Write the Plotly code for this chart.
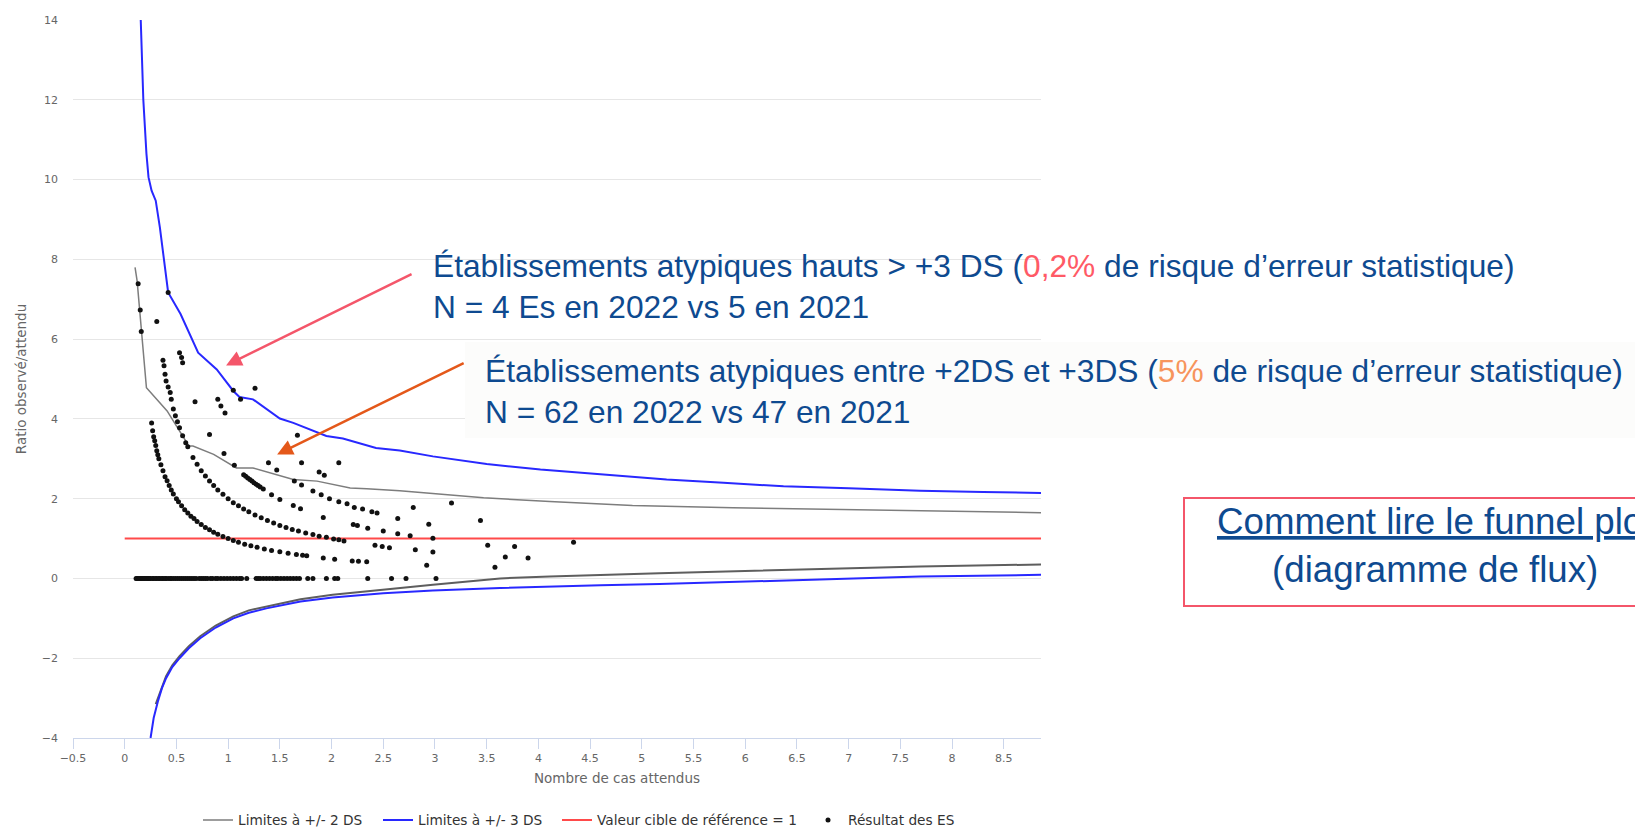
import plotly.graph_objects as go

# ---------------- data ----------------
# Limites +/- 3 DS (blue)
lim3_up_x = [0.155, 0.18, 0.21, 0.23, 0.26, 0.30, 0.34, 0.38, 0.40, 0.42, 0.54, 0.71, 0.89, 1.05, 1.11, 1.24,
             1.50, 1.63, 1.95, 2.11, 2.43, 2.66, 2.98, 3.30, 3.50, 4.02, 4.60, 5.24, 5.79, 6.37, 7.00, 7.69, 8.30, 8.86]
lim3_up_y = [14.0, 12.0, 10.65, 10.06, 9.72, 9.47, 8.80, 7.96, 7.45, 7.17, 6.63, 5.66, 5.24, 4.70, 4.55, 4.49,
             4.01, 3.90, 3.57, 3.51, 3.27, 3.21, 3.06, 2.94, 2.87, 2.73, 2.61, 2.48, 2.40, 2.31, 2.26, 2.20, 2.17, 2.14]
lim3_lo_x = [0.25, 0.28, 0.32, 0.36, 0.40, 0.46, 0.53, 0.62, 0.73, 0.88, 1.05, 1.20, 1.37, 1.55, 1.70, 2.01,
             2.50, 2.98, 3.63, 4.60, 5.17, 6.40, 7.69, 8.86]
lim3_lo_y = [-4.0, -3.5, -3.09, -2.75, -2.5, -2.22, -2.0, -1.75, -1.5, -1.23, -1.0, -0.86, -0.75, -0.65, -0.58, -0.48,
             -0.37, -0.30, -0.24, -0.17, -0.14, -0.05, 0.05, 0.09]

# Limites +/- 2 DS (grey)
lim2_up_x = [0.10, 0.12, 0.21, 0.41, 0.62, 0.66, 0.86, 1.08, 1.24, 1.63, 1.86, 2.18, 2.34, 2.66, 2.92, 3.47,
             4.11, 4.91, 5.88, 6.80, 7.69, 8.86]
lim2_up_y = [7.8, 7.46, 4.78, 4.2, 3.32, 3.32, 3.11, 2.77, 2.77, 2.48, 2.44, 2.27, 2.25, 2.20, 2.14, 2.02,
             1.93, 1.83, 1.77, 1.73, 1.70, 1.65]
lim2_lo_x = [0.30, 0.36, 0.40, 0.46, 0.53, 0.62, 0.73, 0.88, 1.05, 1.20, 1.37, 1.55, 1.70, 2.01, 2.50, 2.98,
             3.63, 4.11, 5.17, 6.40, 7.69, 8.86]
lim2_lo_y = [-3.15, -2.7, -2.45, -2.18, -1.95, -1.7, -1.45, -1.18, -0.95, -0.8, -0.7, -0.6, -0.52, -0.41, -0.28, -0.16,
             0.0, 0.05, 0.13, 0.22, 0.30, 0.35]

# Valeur cible de référence = 1
ref_x = [0.0, 8.86]
ref_y = [1.0, 1.0]

# Résultat des ES (grouped by band)
es_zero_x = [0.11, 0.12, 0.13, 0.14, 0.15, 0.16, 0.17, 0.18, 0.19, 0.20, 0.21, 0.22, 0.23, 0.24, 0.25, 0.27,
             0.28, 0.30, 0.31, 0.33, 0.34, 0.36, 0.37, 0.39, 0.40, 0.42, 0.44, 0.45, 0.47, 0.49, 0.51, 0.53,
             0.55, 0.57, 0.59, 0.61, 0.63, 0.65, 0.67, 0.69, 0.72, 0.74, 0.76, 0.78, 0.80, 0.83, 0.85, 0.88,
             0.90, 0.93, 0.96, 0.99, 1.02, 1.05, 1.08, 1.11, 1.13, 1.18, 1.27, 1.29, 1.31, 1.34, 1.37, 1.40,
             1.43, 1.46, 1.48, 1.51, 1.54, 1.57, 1.60, 1.63, 1.66, 1.69, 1.77, 1.82, 1.95, 2.03, 2.06, 2.35,
             2.58, 2.72, 3.01]
es_zero_y = [0.0] * len(es_zero_x)

es_b1_x = [0.13, 0.15, 0.16, 0.26, 0.27, 0.28, 0.29, 0.30, 0.31, 0.32, 0.33, 0.35, 0.37, 0.39, 0.41, 0.43,
           0.45, 0.47, 0.50, 0.52, 0.55, 0.58, 0.61, 0.64, 0.67, 0.70, 0.74, 0.78, 0.82, 0.86, 0.90, 0.95,
           1.00, 1.05, 1.10, 1.16, 1.22, 1.28, 1.35, 1.42, 1.50, 1.58, 1.66, 1.72, 1.76, 1.92, 2.03, 2.20,
           2.26, 2.34, 2.92, 3.58]
es_b1_y = [7.39, 6.73, 6.19, 3.90, 3.70, 3.55, 3.45, 3.33, 3.20, 3.10, 3.00, 2.85, 2.70, 2.55, 2.45, 2.33,
           2.22, 2.12, 2.00, 1.92, 1.82, 1.72, 1.64, 1.56, 1.50, 1.43, 1.35, 1.28, 1.22, 1.16, 1.11, 1.05,
           1.00, 0.95, 0.91, 0.86, 0.82, 0.78, 0.74, 0.70, 0.67, 0.63, 0.60, 0.58, 0.57, 0.51, 0.48, 0.44,
           0.43, 0.42, 0.33, 0.28]

es_b2_x = [0.31, 0.37, 0.38, 0.39, 0.40, 0.42, 0.44, 0.45, 0.47, 0.49, 0.51, 0.53, 0.56, 0.59, 0.61, 0.66,
           0.70, 0.74, 0.78, 0.82, 0.86, 0.90, 0.95, 1.00, 1.05, 1.10, 1.15, 1.20, 1.26, 1.32, 1.38, 1.44,
           1.50, 1.56, 1.62, 1.68, 1.75, 1.82, 1.88, 1.95, 2.02, 2.07, 2.12, 2.42, 2.49, 2.56, 2.81, 2.98,
           3.68, 3.90]
es_b2_y = [6.44, 5.47, 5.33, 5.12, 4.95, 4.80, 4.66, 4.49, 4.25, 4.08, 3.93, 3.78, 3.58, 3.40, 3.30, 3.03,
           2.86, 2.70, 2.57, 2.44, 2.33, 2.22, 2.11, 2.00, 1.90, 1.82, 1.74, 1.67, 1.59, 1.52, 1.45, 1.39,
           1.33, 1.28, 1.23, 1.19, 1.14, 1.10, 1.06, 1.03, 0.99, 0.97, 0.94, 0.83, 0.80, 0.77, 0.72, 0.66,
           0.54, 0.51]

es_b3_x = [0.42, 0.53, 0.55, 0.56, 0.68, 0.82, 0.96, 1.06, 1.15, 1.17, 1.19, 1.21, 1.23, 1.25, 1.27, 1.29,
           1.31, 1.34, 1.42, 1.50, 1.63, 1.70, 1.92, 2.21, 2.25, 2.35, 2.50, 2.64, 2.76, 2.98, 3.51, 3.77]
es_b3_y = [7.17, 5.66, 5.54, 5.41, 4.43, 3.61, 3.13, 2.84, 2.60, 2.56, 2.52, 2.48, 2.44, 2.40, 2.36, 2.33,
           2.29, 2.24, 2.10, 1.98, 1.83, 1.75, 1.53, 1.35, 1.33, 1.26, 1.19, 1.12, 1.07, 1.01, 0.83, 0.80]

es_b4_x = [0.90, 0.93, 0.97, 1.39, 1.47, 1.64, 1.71, 1.82, 1.90, 1.98, 2.07, 2.15, 2.22, 2.30, 2.39, 2.44,
           2.64, 2.94, 4.34]
es_b4_y = [4.49, 4.32, 4.15, 2.90, 2.72, 2.44, 2.34, 2.19, 2.10, 2.00, 1.92, 1.87, 1.78, 1.74, 1.67, 1.64,
           1.50, 1.36, 0.91]

es_b5_x = [1.05, 1.12, 1.71, 1.88, 1.93, 2.79, 3.44]
es_b5_y = [4.72, 4.49, 2.90, 2.67, 2.59, 1.78, 1.45]

es_b6_x = [1.26, 1.67, 2.07, 3.16]
es_b6_y = [4.77, 3.59, 2.90, 1.89]

x_ticks = [-0.5, 0, 0.5, 1, 1.5, 2, 2.5, 3, 3.5, 4, 4.5, 5, 5.5, 6, 6.5, 7, 7.5, 8, 8.5]
y_ticks = [-4, -2, 0, 2, 4, 6, 8, 10, 12, 14]

es_x = es_zero_x + es_b1_x + es_b2_x + es_b3_x + es_b4_x + es_b5_x + es_b6_x
es_y = es_zero_y + es_b1_y + es_b2_y + es_b3_y + es_b4_y + es_b5_y + es_b6_y

# ---------------- layout helpers ----------------
W, H = 1635, 829
ML, MR, MT, MB = 73, 594, 20, 91
PW, PH = W - ML - MR, H - MT - MB


def pxx(p):
    return (p - ML) / PW


def pxy(p):
    return 1 - (p - MT) / PH


TXT_BLUE = "#0e4a90"
AX_FONT = "DejaVu Sans"
LEG_FONT = dict(family=AX_FONT, size=13.7, color="#333333")

fig = go.Figure()
fig.add_trace(go.Scatter(x=lim2_up_x, y=lim2_up_y, mode="lines", name="Limites à +/- 2 DS",
                         legendgroup="ds2", legend="legend", line=dict(color="#7d7d7d", width=1.5)))
fig.add_trace(go.Scatter(x=lim2_lo_x, y=lim2_lo_y, mode="lines", name="Limites à +/- 2 DS",
                         legendgroup="ds2", legend="legend", showlegend=False,
                         line=dict(color="#5e5e5e", width=2)))
fig.add_trace(go.Scatter(x=lim3_up_x, y=lim3_up_y, mode="lines", name="Limites à +/- 3 DS",
                         legendgroup="ds3", legend="legend2", line=dict(color="#2828ff", width=2)))
fig.add_trace(go.Scatter(x=lim3_lo_x, y=lim3_lo_y, mode="lines", name="Limites à +/- 3 DS",
                         legendgroup="ds3", legend="legend2", showlegend=False,
                         line=dict(color="#2828ff", width=2)))
fig.add_trace(go.Scatter(x=ref_x, y=ref_y, mode="lines", name="Valeur cible de référence = 1",
                         legend="legend3", line=dict(color="#ff4a4a", width=2)))
fig.add_trace(go.Scatter(x=es_x, y=es_y, mode="markers", name="Résultat des ES",
                         legend="legend4", marker=dict(color="#111111", size=5)))


def leg(left_px):
    return dict(orientation="h", x=pxx(left_px), y=pxy(820), xanchor="left", yanchor="middle",
                font=LEG_FONT, itemwidth=30, bgcolor="rgba(0,0,0,0)", borderwidth=0)


fig.update_layout(
    width=W, height=H,
    margin=dict(l=ML, r=MR, t=MT, b=MB, autoexpand=False),
    paper_bgcolor="white", plot_bgcolor="white",
    showlegend=True,
    legend=leg(198), legend2=leg(378), legend3=leg(557), legend4=leg(808),
    xaxis=dict(range=[-0.5, 8.86], tickvals=x_ticks, showgrid=False, zeroline=False,
               showline=True, linecolor="#ccd6eb", linewidth=1,
               ticks="outside", ticklen=10, tickcolor="#ccd6eb", tickwidth=1,
               tickfont=dict(family=AX_FONT, size=11, color="#666666")),
    yaxis=dict(range=[-4, 14], tickvals=y_ticks, showgrid=True, gridcolor="#e6e6e6", gridwidth=1,
               zeroline=False, showline=False, ticks="", ticklabelstandoff=14,
               tickfont=dict(family=AX_FONT, size=11, color="#666666"),
               title=dict(text="Ratio observé/attendu", standoff=12,
                          font=dict(family=AX_FONT, size=13.5, color="#666666"))),
)

# faint background panel behind the second callout
fig.add_shape(type="rect", xref="paper", yref="paper", x0=pxx(465), x1=pxx(1700), y0=pxy(438), y1=pxy(342),
              line=dict(width=0), fillcolor="#fcfcfb", layer="above")
# "Comment lire" box
fig.add_shape(type="rect", xref="paper", yref="paper", x0=pxx(1184), x1=pxx(1690), y0=pxy(606), y1=pxy(498),
              line=dict(color="#f4566a", width=2), fillcolor="rgba(0,0,0,0)", layer="above")

ann = []
ann.append(dict(text="Nombre de cas attendus", xref="paper", yref="paper", x=pxx(617), y=pxy(778),
                xanchor="center", yanchor="middle", showarrow=False,
                font=dict(family=AX_FONT, size=13.5, color="#666666")))
ann.append(dict(text="Établissements atypiques hauts &gt; +3 DS (<span style='color:#ff5a66'>0,2%</span>"
                     " de risque d’erreur statistique)<br>N = 4 Es en 2022 vs 5 en 2021",
                xref="paper", yref="paper", x=pxx(431), y=pxy(286.5), xanchor="left", yanchor="middle",
                align="left", showarrow=False,
                font=dict(family="Liberation Sans, Arial", size=31.7, color=TXT_BLUE)))
ann.append(dict(text="Établissements atypiques entre +2DS et +3DS (<span style='color:#f7945c'>5%</span>"
                     " de risque d’erreur statistique)<br>N = 62 en 2022 vs 47 en 2021",
                xref="paper", yref="paper", x=pxx(483), y=pxy(392), xanchor="left", yanchor="middle",
                align="left", showarrow=False,
                font=dict(family="Liberation Sans, Arial", size=31.7, color=TXT_BLUE)))
ann.append(dict(text="<u>Comment lire le funnel plot</u><br>(diagramme de flux)",
                xref="paper", yref="paper", x=pxx(1435), y=pxy(545), xanchor="center", yanchor="middle",
                align="center", showarrow=False,
                font=dict(family="Liberation Sans, Arial", size=36.7, color=TXT_BLUE)))
# arrows
ann.append(dict(text="", x=0.98, y=5.34, xref="x", yref="y", ax=187, ay=-92, showarrow=True,
                arrowhead=2, arrowsize=1.25, arrowwidth=2.5, arrowcolor="#f4566a", standoff=0))
ann.append(dict(text="", x=1.474, y=3.11, xref="x", yref="y", ax=188, ay=-92, showarrow=True,
                arrowhead=2, arrowsize=1.25, arrowwidth=2.5, arrowcolor="#e4581a", standoff=0))
fig.update_layout(annotations=ann)

fig.write_html("out.html", config={"displayModeBar": False},
               post_script="document.body.style.margin='0px';document.body.style.overflow='hidden';")
